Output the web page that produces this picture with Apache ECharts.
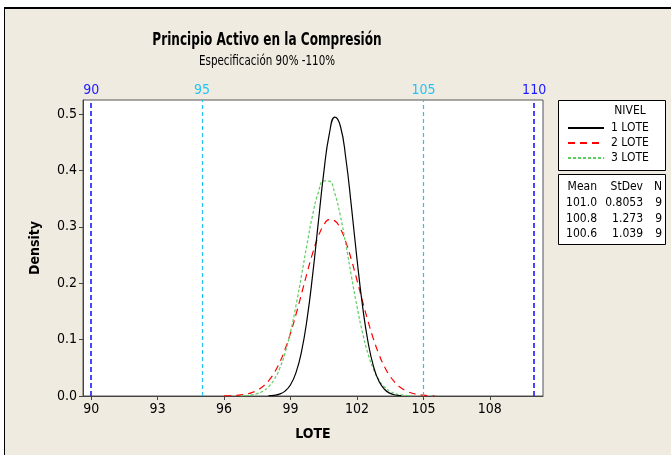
<!DOCTYPE html>
<html>
<head>
<meta charset="utf-8">
<script src="https://cdn.jsdelivr.net/npm/echarts@6/dist/echarts.min.js"></script>
<style>html,body{margin:0;padding:0;background:#fff}#c{width:671px;height:455px}</style>
</head>
<body>
<div id="c"></div>
<script>
// ---- data ----
const seriesNames = ['1 LOTE', '2 LOTE', '3 LOTE'];
const xTicks = [90, 93, 96, 99, 102, 105, 108];
const yTicks = [0, 0.1, 0.2, 0.3, 0.4, 0.5];
const specLimits = [90, 95, 105, 110];
const statMeans = ['101.0', '100.8', '100.6'];
const statStdDevs = ['0.8053', '1.273', '1.039'];
const statN = ['9', '9', '9'];

const lote1X = [98, 98.25, 98.5, 98.75, 99, 99.25, 99.5, 99.75, 100, 100.25, 100.5, 100.75, 101, 101.25, 101.5, 101.75, 102, 102.25, 102.5, 102.75, 103, 103.25, 103.5, 103.75, 104];
const lote1Y = [0.0004, 0.00123, 0.00342, 0.00869, 0.02002, 0.04189, 0.0796, 0.1373, 0.2152, 0.3062, 0.3957, 0.4643, 0.4948, 0.4789, 0.4208, 0.3358, 0.2434, 0.1602, 0.0958, 0.0520, 0.0256, 0.01147, 0.00466, 0.00172, 0.00058];

const lote2X = [96, 96.25, 96.5, 96.75, 97, 97.25, 97.5, 97.75, 98, 98.25, 98.5, 98.75, 99, 99.25, 99.5, 99.75, 100, 100.25, 100.5, 100.75, 101, 101.25, 101.5, 101.75, 102, 102.25, 102.5, 102.75, 103, 103.25, 103.5, 103.75, 104, 104.25, 104.5, 104.75, 105, 105.25, 105.5];
const lote2Y = [0.00023, 0.00048, 0.00096, 0.00184, 0.00339, 0.00601, 0.01024, 0.01679, 0.02649, 0.04018, 0.0587, 0.0825, 0.1115, 0.1451, 0.1816, 0.2187, 0.2534, 0.2825, 0.3031, 0.3128, 0.3106, 0.2968, 0.2729, 0.2413, 0.2054, 0.1682, 0.1325, 0.1005, 0.0733, 0.0515, 0.0348, 0.02257, 0.01411, 0.00849, 0.00491, 0.00274, 0.00147, 0.00075, 0.00037];

const lote3X = [96.75, 97, 97.25, 97.5, 97.75, 98, 98.25, 98.5, 98.75, 99, 99.25, 99.5, 99.75, 100, 100.25, 100.5, 100.75, 101, 101.25, 101.5, 101.75, 102, 102.25, 102.5, 102.75, 103, 103.25, 103.5, 103.75, 104, 104.25, 104.5];
const lote3Y = [0.00037, 0.00089, 0.0020, 0.00423, 0.00846, 0.01598, 0.02848, 0.0479, 0.0760, 0.1139, 0.161, 0.2148, 0.2704, 0.3214, 0.3604, 0.3815, 0.381, 0.3592, 0.3195, 0.2683, 0.2125, 0.159, 0.1122, 0.0747, 0.047, 0.02786, 0.0156, 0.00824, 0.00411, 0.00193, 0.00086, 0.00036];

const FONT = 'Tahoma, "DejaVu Sans Condensed", "Liberation Sans", sans-serif';
const BLUE = '#1a1aff', CYAN = '#22c4f4';

function pairs(xs, ys) { return xs.map((x, i) => [x, ys[i]]); }

const chart = echarts.init(document.getElementById('c'), null, {renderer: 'canvas'});

const statRows = [];
statMeans.forEach((m, i) => {
  const y = 203 + i * 15.5;
  statRows.push({type: 'text', x: 597, y: y, style: {text: m, font: '12px ' + FONT, fill: '#000', align: 'right', verticalAlign: 'middle'}});
  statRows.push({type: 'text', x: 643, y: y, style: {text: statStdDevs[i], font: '12px ' + FONT, fill: '#000', align: 'right', verticalAlign: 'middle'}});
  statRows.push({type: 'text', x: 662, y: y, style: {text: statN[i], font: '12px ' + FONT, fill: '#000', align: 'right', verticalAlign: 'middle'}});
});

const option = {
  backgroundColor: '#ffffff',
  animation: false,
  textStyle: {fontFamily: FONT},
  graphic: [
    {type: 'rect', z: -10, shape: {x: 4.5, y: 8, width: 700, height: 460}, style: {fill: '#f0ebe1', stroke: '#000', lineWidth: 1}},
    {type: 'line', z: -9, shape: {x1: 4, y1: 8, x2: 671, y2: 8}, style: {stroke: '#000', lineWidth: 2}},
    {type: 'text', x: 267, y: 41, scaleX: 0.79, style: {text: 'Principio Activo en la Compresión', font: 'bold 17px ' + FONT, fill: '#000', align: 'center', verticalAlign: 'middle'}},
    {type: 'text', x: 267, y: 61, scaleX: 0.82, style: {text: 'Especificación 90% -110%', font: '14px ' + FONT, fill: '#000', align: 'center', verticalAlign: 'middle'}},
    {type: 'rect', shape: {x: 558.5, y: 100.5, width: 107, height: 70}, style: {fill: '#fff', stroke: '#000', lineWidth: 1}},
    {type: 'text', x: 630, y: 111, style: {text: 'NIVEL', font: '12px ' + FONT, fill: '#000', align: 'center', verticalAlign: 'middle'}},
    {type: 'rect', shape: {x: 558.5, y: 174.5, width: 107, height: 70}, style: {fill: '#fff', stroke: '#000', lineWidth: 1}},
    {type: 'text', x: 597, y: 187, style: {text: 'Mean', font: '12px ' + FONT, fill: '#000', align: 'right', verticalAlign: 'middle'}},
    {type: 'text', x: 643, y: 187, style: {text: 'StDev', font: '12px ' + FONT, fill: '#000', align: 'right', verticalAlign: 'middle'}},
    {type: 'text', x: 662, y: 187, style: {text: 'N', font: '12px ' + FONT, fill: '#000', align: 'right', verticalAlign: 'middle'}}
  ].concat(statRows),
  legend: {
    data: seriesNames,
    orient: 'vertical',
    left: 562, top: 117,
    itemWidth: 36, itemHeight: 14, itemGap: 3,
    itemStyle: {opacity: 0},
    textStyle: {fontSize: 12, color: '#000', fontFamily: FONT, padding: [0, 0, 0, 2]},
    selectedMode: false
  },
  grid: {left: 83, top: 100, right: 128, bottom: 59, show: true, backgroundColor: '#ffffff', borderColor: '#555', borderWidth: 1, containLabel: false},
  xAxis: {
    type: 'value', min: 89.63, max: 110.4,
    name: 'LOTE', nameLocation: 'middle', nameGap: 31,
    nameTextStyle: {fontWeight: 'bold', fontSize: 14, color: '#000', fontFamily: FONT},
    axisLine: {show: true, onZero: false, lineStyle: {color: '#444'}},
    axisTick: {show: true, length: 4, customValues: xTicks, lineStyle: {color: '#444'}},
    axisLabel: {customValues: xTicks, fontSize: 14, color: '#000', margin: 6, fontFamily: FONT},
    splitLine: {show: false}
  },
  yAxis: {
    type: 'value', min: 0, max: 0.525,
    name: 'Density', nameLocation: 'middle', nameGap: 41, nameRotate: 90,
    nameTextStyle: {fontWeight: 'bold', fontSize: 14, color: '#000', fontFamily: FONT},
    axisLine: {show: true, lineStyle: {color: '#444'}},
    axisTick: {show: true, length: 4, customValues: yTicks, lineStyle: {color: '#444'}},
    axisLabel: {customValues: yTicks, fontSize: 14, color: '#000', margin: 6, fontFamily: FONT, formatter: v => v.toFixed(1)},
    splitLine: {show: false}
  },
  series: [
    {
      name: seriesNames[0], type: 'line', data: pairs(lote1X, lote1Y), smooth: true, symbol: 'none',
      lineStyle: {color: '#000', width: 1.2, type: 'solid'}, itemStyle: {color: '#000'}, z: 4,
      markLine: {
        silent: true, symbol: 'none', animation: false,
        data: specLimits.map(v => {
          const outer = (v === 90 || v === 110);
          const col = outer ? BLUE : CYAN;
          return {
            xAxis: v,
            lineStyle: {color: col, type: outer ? [5, 3] : [4, 3], width: outer ? 1.6 : 1.2},
            label: {show: true, position: 'end', formatter: String(v), color: col, fontSize: 14, fontFamily: FONT, distance: 3}
          };
        })
      }
    },
    {
      name: seriesNames[1], type: 'line', data: pairs(lote2X, lote2Y), smooth: true, symbol: 'none',
      lineStyle: {color: '#ff0000', width: 1.2, type: [7, 5]}, itemStyle: {color: '#ff0000'}, z: 3
    },
    {
      name: seriesNames[2], type: 'line', data: pairs(lote3X, lote3Y), smooth: true, symbol: 'none',
      lineStyle: {color: '#5fcc5f', width: 1.2, type: [3, 2]}, itemStyle: {color: '#5fcc5f'}, z: 3
    }
  ]
};
chart.setOption(option);
</script>
</body>
</html>
